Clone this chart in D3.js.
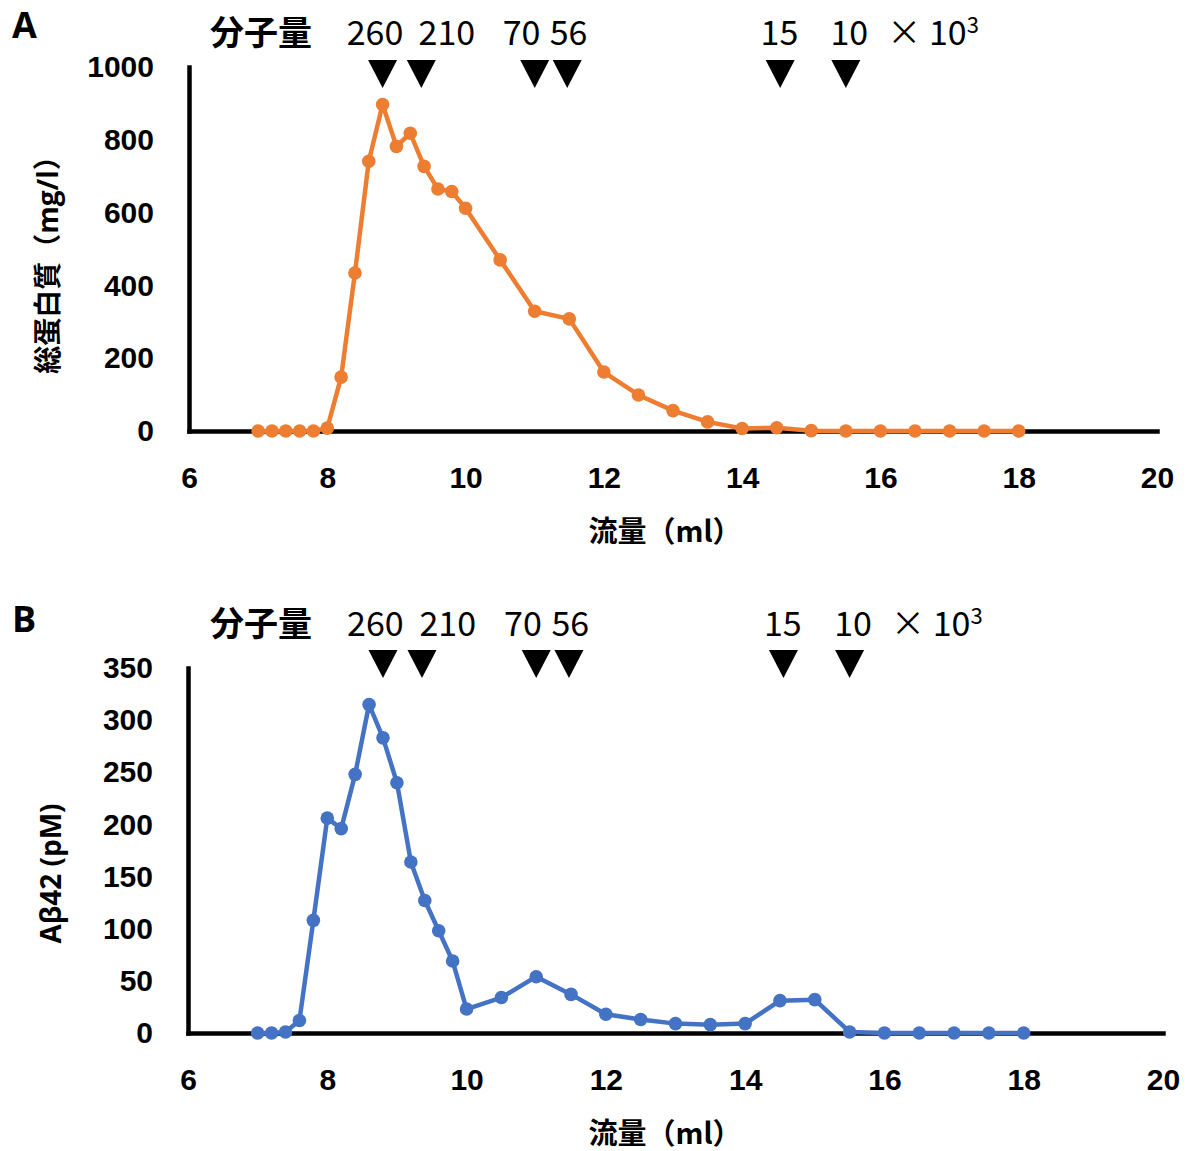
<!DOCTYPE html>
<html>
<head>
<meta charset="utf-8">
<script src="https://cdn.jsdelivr.net/npm/d3@7"></script>
<style>
  body { margin: 0; background: #fff; }
  svg { display: block; font-family: "Open Sans", "Noto Sans CJK JP", sans-serif; }
  .tick text { font-size: 30px; font-weight: 700; fill: #000; }
  .domain { stroke: #000; stroke-width: 4.5; }
</style>
</head>
<body>
<div id="chart"></div>
<script>
// fractions (ml) and measured values
const flowMl = [7, 7.2, 7.4, 7.6, 7.8, 8, 8.2, 8.4, 8.6, 8.8, 9, 9.2, 9.4, 9.6, 9.8, 10,
  10.5, 11, 11.5, 12, 12.5, 13, 13.5, 14, 14.5, 15, 15.5, 16, 16.5, 17, 17.5, 18];
const totalProtein = [0, 0, 0, 0, 0, 8, 148, 434, 741, 897, 782, 818, 727, 665, 658, 612,
  470, 329, 308, 162, 99, 56, 25, 7, 9, 1, 0, 0, 0, 0, 0, 0];
const abeta42 = [0, 0, 1, 12, 108, 206, 196, 248, 315, 283, 240, 164, 127, 98, 69, 23,
  34, 54, 37, 18, 13, 9, 8, 9, 31, 32, 1, 0, 0, 0, 0, 0];

// molecular weight markers (x10^3) and where they sit on the flow axis
const mwLabels = ["260", "210", "70", "56", "15", "10"];
const mwMarkerMl = [8.8, 9.36, 11.0, 11.47, 14.55, 15.5];
const mwLabelMl = [8.69, 9.73, 10.81, 11.49, 14.54, 15.55];

const xTicks = [6, 8, 10, 12, 14, 16, 18, 20];
const proteinTicks = [0, 200, 400, 600, 800, 1000];
const abetaTicks = [0, 50, 100, 150, 200, 250, 300, 350];

const width = 1191, height = 1151;

const svg = d3.select("#chart")
  .append("svg")
  .attr("width", width)
  .attr("height", height);

function panel(opt) {
  const g = svg.append("g");

  let x = d3.scaleLinear().domain([6, 20]).range([opt.left, opt.right]);
  let y = d3.scaleLinear().domain([0, opt.ymax]).range([opt.bottom, opt.top]);

  // axes
  g.append("g")
    .attr("transform", `translate(0,${opt.bottom})`)
    .call(d3.axisBottom(x).tickValues(xTicks).tickSize(0).tickPadding(36));

  g.append("g")
    .attr("transform", `translate(${opt.left},0)`)
    .call(d3.axisLeft(y).tickValues(opt.ticks).tickFormat(d => d).tickSize(0).tickPadding(35));

  g.selectAll(".domain").attr("stroke-linecap", "square");

  // panel letter
  g.append("text")
    .attr("x", 12).attr("y", opt.letterY)
    .attr("font-size", 36).attr("font-weight", 700)
    .text(opt.letter);

  // y title
  g.append("text")
    .attr("transform", `translate(${opt.ytitleX},${(opt.top + opt.bottom) / 2 + opt.ytitleDy}) rotate(-90)`)
    .attr("text-anchor", "middle")
    .attr("dy", "0.35em")
    .attr("font-size", 28).attr("font-weight", 700)
    .text(opt.ytitle);

  // x title
  g.append("text")
    .attr("x", 665).attr("y", opt.bottom + 101)
    .attr("text-anchor", "middle")
    .attr("dy", "0.35em")
    .attr("font-size", 29).attr("font-weight", 700)
    .style("font-family", "'Noto Sans CJK JP', sans-serif")
    .text("流量（ml）");

  // MW header
  const head = g.append("g")
    .style("font-family", "'Noto Sans CJK JP', sans-serif");

  head.append("text")
    .attr("x", 261).attr("y", opt.headY)
    .attr("text-anchor", "middle")
    .attr("font-size", 34).attr("font-weight", 700)
    .text("分子量");

  head.selectAll(".mw")
    .data(mwLabels)
    .join("text")
    .attr("x", (d, i) => x(mwLabelMl[i]))
    .attr("y", opt.headY)
    .attr("text-anchor", "middle")
    .attr("font-size", 34)
    .text(d => d);

  const unit = head.append("text")
    .attr("x", x(15.55) + 38).attr("y", opt.headY)
    .attr("font-size", 34);
  unit.append("tspan").text("× 10");
  unit.append("tspan").attr("font-size", 22).attr("dy", -12).text("3");

  g.selectAll(".marker")
    .data(mwMarkerMl)
    .join("path")
    .attr("d", d => `M${x(d) - 14.5},${opt.triTop}L${x(d) + 14.5},${opt.triTop}L${x(d)},${opt.triTop + 28}Z`)
    .attr("fill", "#000");

  // series
  const pts = flowMl.map((f, i) => [f, opt.values[i]]);

  let line = d3.line()
    .x(d => x(d[0]))
    .y(d => y(d[1]));

  g.append("path")
    .datum(pts)
    .attr("d", line)
    .attr("fill", "none")
    .attr("stroke", opt.color)
    .attr("stroke-width", 4.5)
    .attr("stroke-linejoin", "round");

  g.selectAll(".dot")
    .data(pts)
    .join("circle")
    .attr("cx", d => x(d[0]))
    .attr("cy", d => y(d[1]))
    .attr("r", 6.8)
    .attr("fill", opt.color);
}

panel({
  values: totalProtein, ymax: 1000, ticks: proteinTicks, color: "#ED7D31",
  left: 189, right: 1157, top: 67, bottom: 431,
  letter: "A", letterY: 38, headY: 45, triTop: 60,
  ytitle: "総蛋白質（mg/l）", ytitleX: 48, ytitleDy: 9
});

panel({
  values: abeta42, ymax: 350, ticks: abetaTicks, color: "#4472C4",
  left: 188, right: 1163, top: 668, bottom: 1033,
  letter: "B", letterY: 632, headY: 636, triTop: 650,
  ytitle: "Aβ42 (pM)", ytitleX: 51, ytitleDy: 23
});
</script>
</body>
</html>
